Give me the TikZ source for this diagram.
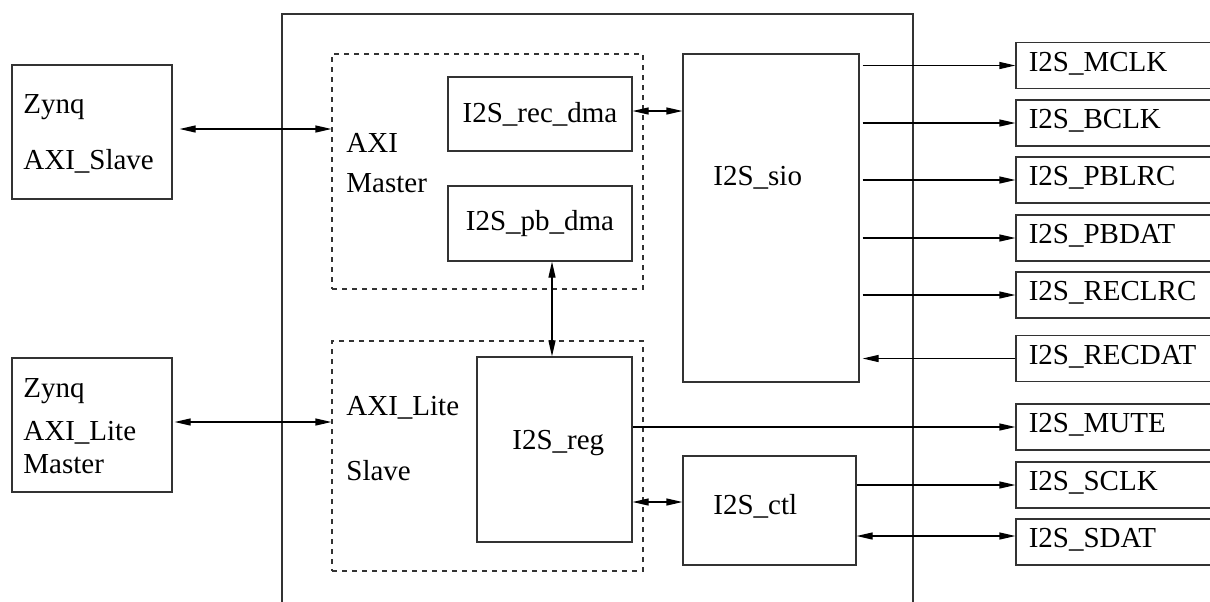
\documentclass[tikz,border=0pt]{standalone}
\usepackage{fontspec}
\setmainfont{Liberation Serif}
\usetikzlibrary{arrows.meta}
\tikzset{
  box/.style={draw=black!80, line width=0.6pt, inner sep=0pt, font=\lbl},
  dbox/.style={draw=black!80, line width=0.6pt, dash pattern=on 2.5pt off 2.5pt, inner sep=0pt},
  txt/.style={anchor=base west, inner sep=0pt, font=\lbl},
  conn/.style={line width=0.6pt, -{Triangle[length=8pt,width=3.5pt]}},
  dbl/.style={line width=0.6pt, {Triangle[length=8pt,width=3.5pt]}-{Triangle[length=8pt,width=3.5pt]}},
  rbox/.style={box, minimum width=102pt, minimum height=23pt},
}
\newcommand{\lbl}{\fontsize{14.5pt}{16pt}\selectfont}
\begin{document}
\begin{tikzpicture}[x=0.5pt,y=-0.5pt]
\useasboundingbox (0,0) rectangle (1210,601);
\clip (0,0) rectangle (1210,601);
% outer chip
\node[box, minimum width=315.5pt, minimum height=303pt] (chip) at (597.5,317) {};
% left boxes
\node[box, minimum width=80pt, minimum height=67pt] (zs) at (92,132) {};
\node[box, minimum width=80pt, minimum height=67pt] (zl) at (92,425) {};
\node[txt] (zs1) at (23,113) {Zynq};
\node[txt] (zs2) at (23,169) {AXI\_Slave};
\node[txt] (zl1) at (23,397) {Zynq};
\node[txt] (zl2) at (23,440) {AXI\_Lite};
\node[txt] (zl3) at (23,473) {Master};
% dashed groups
\node[dbox, minimum width=155.5pt, minimum height=117.5pt] (am) at (487.5,171.5) {};
\node[dbox, minimum width=155.5pt, minimum height=115pt] (as) at (487.5,456) {};
\node[txt] (am1) at (346,152) {AXI};
\node[txt] (am2) at (346,192) {Master};
\node[txt] (as1) at (346,415) {AXI\_Lite};
\node[txt] (as2) at (346,480) {Slave};
% inner blocks
\node[box, minimum width=92pt, minimum height=37pt] (rec) at (540,114) {I2S\_rec\_dma};
\node[box, minimum width=92pt, minimum height=37.5pt] (pb) at (540,223.5) {I2S\_pb\_dma};
\node[box, minimum width=77.5pt, minimum height=92.5pt] (reg) at (554.5,449.5) {};
\node[txt] (regt) at (512,449) {I2S\_reg};
\node[box, minimum width=88pt, minimum height=164pt] (sio) at (771,218) {};
\node[txt] (siot) at (713,185) {I2S\_sio};
\node[box, minimum width=86.5pt, minimum height=54.5pt] (ctl) at (769.5,510.5) {};
\node[txt] (ctlt) at (713,514) {I2S\_ctl};
% right pins
\foreach \n/\t/\y in {mclk/MCLK/65.5, bclk/BCLK/123, pblrc/PBLRC/180, pbdat/PBDAT/238, reclrc/RECLRC/295, recdat/RECDAT/358.5, mute/MUTE/427, sclk/SCLK/485, sdat/SDAT/542}{
  \node[rbox] (\n) at (1118,\y) {};
  \node[txt] (\n t) at ([xshift=6.5pt,yshift=-2.75pt]\n.west) {I2S\_\t};
}
% connectors
\draw[dbl] ([xshift=3.5pt,yshift=1.5pt]zs.east) -- ([yshift=1.5pt]zs.east -| am.west);
\draw[dbl] ([xshift=1pt,yshift=1.5pt]zl.east) -- ([yshift=1.5pt]zl.east -| as.west);
\draw[dbl] ([yshift=1.5pt]rec.east) -- ([yshift=1.5pt]rec.east -| sio.west);
\draw[dbl] ([xshift=6pt]pb.south) -- ([xshift=6pt]pb.south |- reg.north);
\draw[dbl] ([yshift=4.25pt]ctl.west -| reg.east) -- ([yshift=4.25pt]ctl.west);
\draw[conn] (reg.east |- mute.west) -- (mute.west);
\foreach \n in {mclk,bclk,pblrc,pbdat,reclrc}{
  \draw[conn] ([xshift=1.5pt]sio.east |- \n.west) -- (\n.west);
}
\draw[conn] (recdat.west) -- ([xshift=1.5pt]sio.east |- recdat.west);
\draw[conn] (ctl.east |- sclk.west) -- (sclk.west);
\draw[dbl] ([yshift=3pt]ctl.east |- sdat.west) -- ([yshift=3pt]sdat.west);
\end{tikzpicture}
\end{document}
